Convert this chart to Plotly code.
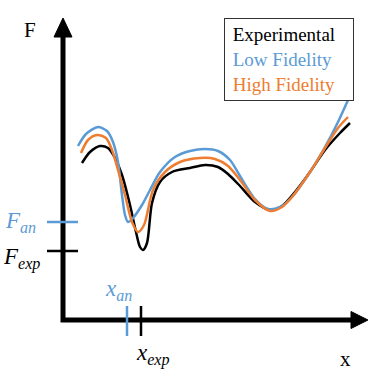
import plotly.graph_objects as go

# ---- data (x, F) ----
exp_x = [1.9, 2.7, 3.7, 4.5, 5.2, 5.9, 6.7, 7.3, 7.7, 8.0, 8.4, 8.9, 9.7, 10.9, 12.7, 14.2, 15.5, 16.5, 17.7, 19.2, 20.7, 21.9, 23.2, 24.7, 26.2, 27.7, 28.7]
exp_F = [15.7, 16.8, 17.4, 17.2, 16.2, 14.5, 11.5, 8.8, 7.3, 7.0, 7.7, 11.7, 13.8, 14.8, 15.2, 15.5, 15.3, 14.6, 13.4, 11.8, 11.0, 11.4, 12.8, 14.8, 17.0, 18.7, 19.7]

low_x = [1.5, 2.3, 3.5, 4.4, 5.0, 5.5, 5.9, 6.2, 6.5, 7.0, 7.9, 8.7, 9.7, 11.2, 12.7, 14.2, 15.5, 16.7, 17.7, 19.2, 20.5, 21.7, 22.9, 24.7, 26.2, 27.5, 28.5]
low_F = [17.4, 18.6, 19.3, 18.9, 17.8, 15.8, 12.5, 10.5, 9.8, 10.2, 11.5, 13.0, 14.8, 16.3, 16.9, 17.1, 16.9, 16.0, 14.4, 12.1, 11.1, 11.3, 12.3, 14.8, 17.3, 19.8, 22.0]

high_x = [1.8, 2.5, 3.4, 4.3, 4.9, 5.5, 6.2, 6.9, 7.5, 8.1, 9.0, 10.2, 11.7, 13.7, 15.2, 16.5, 17.7, 19.2, 20.7, 21.9, 22.9, 24.7, 26.2, 27.5, 28.5]
high_F = [16.7, 18.0, 18.5, 18.2, 17.0, 15.0, 12.5, 9.8, 8.8, 9.5, 13.0, 14.8, 15.8, 16.2, 16.1, 15.4, 14.0, 12.0, 10.9, 11.3, 12.3, 14.8, 17.2, 19.2, 20.3]

series_names = ["Experimental", "Low Fidelity", "High Fidelity"]
series_colors = ["#000000", "#5b9bd5", "#ed7d31"]

F_an, F_exp = 9.8, 6.9
x_an, x_exp = 6.4, 7.8

x_range = [-6.3, 30.7]
y_range = [-6.0, 32.0]

SERIF = "Liberation Serif, Times New Roman, serif"

fig = go.Figure()

for xs, ys, name, col in [(exp_x, exp_F, series_names[0], series_colors[0]),
                          (low_x, low_F, series_names[1], series_colors[1]),
                          (high_x, high_F, series_names[2], series_colors[2])]:
    fig.add_trace(go.Scatter(x=xs, y=ys, mode="lines", name=name,
                             line=dict(color=col, width=2.5, shape="spline", smoothing=0.8),
                             showlegend=False, hoverinfo="skip"))

fig.add_trace(go.Scatter(x=[0, 0, 28.9], y=[28.5, 0, 0], mode="lines",
                         line=dict(color="black", width=5), showlegend=False, hoverinfo="skip"))
fig.add_trace(go.Scatter(x=[-0.9, 0, 0.9, -0.9], y=[28.3, 30.2, 28.3, 28.3], mode="lines",
                         fill="toself", fillcolor="black", line=dict(color="black", width=1),
                         showlegend=False, hoverinfo="skip"))
fig.add_trace(go.Scatter(x=[28.8, 30.5, 28.8, 28.8], y=[0.85, 0, -0.85, 0.85], mode="lines",
                         fill="toself", fillcolor="black", line=dict(color="black", width=1),
                         showlegend=False, hoverinfo="skip"))

fig.add_trace(go.Scatter(x=[-1.6, 1.5], y=[F_an, F_an], mode="lines",
                         line=dict(color=series_colors[1], width=2.5), showlegend=False, hoverinfo="skip"))
fig.add_trace(go.Scatter(x=[-1.6, 1.5], y=[F_exp, F_exp], mode="lines",
                         line=dict(color="black", width=2.5), showlegend=False, hoverinfo="skip"))
fig.add_trace(go.Scatter(x=[x_an, x_an], y=[1.4, -1.6], mode="lines",
                         line=dict(color=series_colors[1], width=2.5), showlegend=False, hoverinfo="skip"))
fig.add_trace(go.Scatter(x=[x_exp, x_exp], y=[1.4, -1.6], mode="lines",
                         line=dict(color="black", width=2.5), showlegend=False, hoverinfo="skip"))

annos = [
    dict(x=-3.3, y=29.0, text="F", font=dict(family=SERIF, size=21, color="black")),
    dict(x=28.2, y=-3.9, text="x", font=dict(family=SERIF, size=21, color="black")),
    dict(x=-4.3, y=F_an, text="<i>F</i><sub><i>an</i></sub>", font=dict(family=SERIF, size=23, color=series_colors[1])),
    dict(x=-4.2, y=F_exp - 0.7, text="<i>F</i><sub><i>exp</i></sub>", font=dict(family=SERIF, size=23, color="black")),
    dict(x=x_an - 0.9, y=3.0, text="<i>x</i><sub><i>an</i></sub>", font=dict(family=SERIF, size=23, color=series_colors[1])),
    dict(x=x_exp + 1.2, y=-3.4, text="<i>x</i><sub><i>exp</i></sub>", font=dict(family=SERIF, size=23, color="black")),
]
for a in annos:
    fig.add_annotation(showarrow=False, xref="x", yref="y", **a)

legend_text = "<br>".join(f"<span style='color:{c}'>&nbsp;{n}</span>" for n, c in zip(series_names, series_colors))
fig.add_annotation(x=22.6, y=26.05, xref="x", yref="y", showarrow=False, text=legend_text,
                   align="left", width=122, height=75, borderpad=3, bordercolor="#333333",
                   borderwidth=1, bgcolor="white", font=dict(family=SERIF, size=19, color="black"))

fig.update_layout(width=370, height=380, margin=dict(l=0, r=0, t=0, b=0),
                  paper_bgcolor="white", plot_bgcolor="white",
                  font=dict(family=SERIF),
                  xaxis=dict(range=x_range, visible=False, fixedrange=True),
                  yaxis=dict(range=y_range, visible=False, fixedrange=True),
                  showlegend=False)

fig.write_html("out.html")
